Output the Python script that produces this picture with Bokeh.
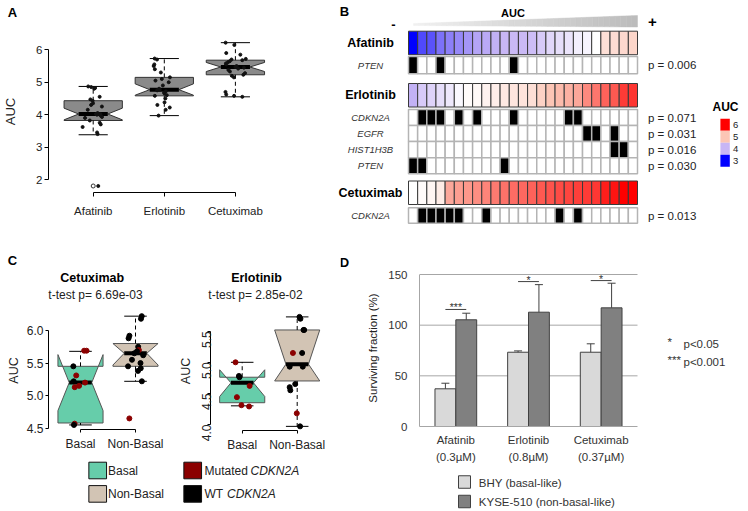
import math
import numpy as np
from bokeh.plotting import figure
from bokeh.layouts import row, column
from bokeh.models import Range1d, FixedTicker, ColumnDataSource, PrintfTickFormatter
from bokeh.transform import jitter, dodge, linear_cmap
from bokeh.core.properties import value
from bokeh.embed import file_html
from bokeh.resources import INLINE

FONT = "Liberation Sans"
TXT = "#222222"

# ======================= DATA =======================
drugs = ["Afatinib", "Erlotinib", "Cetuximab"]

# per-cell-line AUC values (sorted ascending, 25 lines)
auc_afatinib = [1.80, 3.40, 3.45, 3.62, 3.70, 3.75, 3.82, 3.90, 3.93, 3.97, 4.00, 4.02,
                4.02, 4.05, 4.15, 4.25, 4.30, 4.35, 4.43, 4.47, 4.55, 4.80, 4.82, 4.85, 4.87]
auc_erlotinib = [3.97, 4.15, 4.22, 4.30, 4.38, 4.50, 4.58, 4.60, 4.65, 4.68, 4.72, 4.75,
                 4.77, 4.80, 4.90, 5.00, 5.05, 5.10, 5.15, 5.30, 5.40, 5.50, 5.55, 5.70, 5.73]
auc_cetuximab = [4.55, 4.58, 4.62, 4.70, 5.15, 5.20, 5.23, 5.28, 5.33, 5.38, 5.42, 5.45,
                 5.47, 5.50, 5.55, 5.58, 5.62, 5.65, 5.68, 5.70, 5.72, 5.85, 5.90, 6.15, 6.22]

# panel A box statistics
a_lo = [3.38, 3.97, 4.55]
a_q1 = [3.82, 4.58, 5.23]
a_med = [4.02, 4.77, 5.47]
a_q3 = [4.43, 5.15, 5.68]
a_hi = [4.87, 5.73, 6.22]
a_nlo = [3.84, 4.60, 5.33]
a_nhi = [4.20, 4.95, 5.61]
a_outlier_drug = ["Afatinib"]
a_outlier_auc = [1.80]

# panel B mutations (indices of mutated lines, in AUC order)
afatinib_PTEN = [0, 3, 11]
erlotinib_CDKN2A = [1, 2, 3, 5, 7, 11, 17, 18]
erlotinib_EGFR = [19, 20, 22]
erlotinib_HIST1H3B = [22, 23]
erlotinib_PTEN = [0, 1, 10]
cetuximab_CDKN2A = [1, 2, 3, 4, 5, 8, 16, 18]
gene_labels = ["PTEN", "CDKN2A", "EGFR", "HIST1H3B", "PTEN", "CDKN2A"]
gene_mutated = [afatinib_PTEN, erlotinib_CDKN2A, erlotinib_EGFR, erlotinib_HIST1H3B,
                erlotinib_PTEN, cetuximab_CDKN2A]
gene_pvals = ["p = 0.006", "p = 0.071", "p = 0.031", "p = 0.016", "p = 0.030", "p = 0.013"]
auc_legend_vals = [6, 5, 4, 3]

# panel C
c_groups = ["Basal", "Non-Basal"]
cet_basal = [5.69, 5.69, 5.45, 5.31, 5.22, 5.20, 5.15, 5.13, 4.57, 4.55]
cet_basal_mut = [1, 1, 0, 1, 0, 1, 1, 1, 1, 0]
cet_nonbasal = [6.22, 6.18, 5.92, 5.88, 5.75, 5.70, 5.68, 5.65, 5.62, 5.55, 5.50, 5.45,
                5.42, 5.38, 5.22, 4.65]
cet_nonbasal_mut = [0, 0, 0, 0, 0, 1, 0, 0, 0, 0, 0, 0, 0, 0, 0, 1]
cet_lo = [4.55, 5.22]; cet_q1 = [4.58, 5.45]; cet_med = [5.20, 5.65]
cet_q3 = [5.45, 5.80]; cet_hi = [5.68, 6.22]; cet_nlo = [4.77, 5.47]; cet_nhi = [5.63, 5.80]
erl_basal = [5.00, 4.78, 4.76, 4.62, 4.44, 4.31, 4.29]
erl_basal_mut = [1, 0, 0, 1, 1, 1, 1]
erl_nonbasal = [5.73, 5.70, 5.52, 5.52, 5.15, 5.15, 4.93, 4.93, 4.65, 4.60, 4.55, 4.18, 3.97]
erl_nonbasal_mut = [0, 0, 0, 0, 1, 0, 0, 0, 0, 0, 0, 1, 0]
erl_lo = [4.30, 3.97]; erl_q1 = [4.35, 4.70]; erl_med = [4.67, 4.97]
erl_q3 = [4.76, 5.52]; erl_hi = [5.00, 5.73]; erl_nlo = [4.45, 4.70]; erl_nhi = [4.88, 5.52]
c_tests = ["t-test p= 6.69e-03", "t-test p= 2.85e-02"]
c_leg_labels = ["Basal", "Non-Basal", "Mutated ", "WT "]
c_leg_colors = ["#66cdaa", "#d2c4b4", "#8b0000", "#000000"]

# panel D
d_labels = ["Afatinib\n(0.3\u00b5M)", "Erlotinib\n(0.8\u00b5M)", "Cetuximab\n(0.37\u00b5M)"]
d_bhy = [37.2, 73.3, 73.3]
d_bhy_err = [5.5, 1.3, 8.3]
d_kyse = [105.3, 112.8, 117.1]
d_kyse_err = [6.5, 27.2, 24.3]
d_sig = ["***", "*", "*"]
d_sig_y = [115.5, 143.0, 144.0]
d_series = ["BHY (basal-like)", "KYSE-510 (non-basal-like)"]
d_colors = ["#d9d9d9", "#808080"]
d_yticks = [0, 50, 100, 150]


# ======================= HELPERS =======================
def lin(p0, v0, p1, v1):
    return lambda px: v0 + (px - p0) * (v1 - v0) / (p1 - p0)


def plot_fig(w, h, xr, yr, L, R, T, B):
    p = figure(width=w, height=h, x_range=xr, y_range=yr, output_backend="svg",
               toolbar_location=None, min_border_left=L, min_border_right=R,
               min_border_top=T, min_border_bottom=B)
    p.outline_line_color = None
    p.grid.visible = False
    return p


def text_fig(x0, x1, y0, y1, xr=None):
    p = figure(width=x1 - x0, height=y1 - y0,
               x_range=xr if xr is not None else Range1d(x0, x1), y_range=Range1d(y1, y0),
               output_backend="svg", toolbar_location=None, x_axis_location=None,
               y_axis_location=None, min_border_left=0, min_border_right=0,
               min_border_top=0, min_border_bottom=0)
    p.outline_line_color = None
    p.grid.visible = False
    return p


def txt(p, xs, ys, texts, size="12px", style="normal", align="center", baseline="middle",
        color=TXT, angle=0.0):
    p.text(x=xs, y=ys, text=texts, text_font=value(FONT), text_font_size=size,
           text_font_style=style, text_align=align, text_baseline=baseline,
           text_color=color, angle=angle)


def style_axes(p, font_size="11.5px", tick=4):
    for ax in p.axis:
        ax.axis_line_color = "black"
        ax.major_tick_line_color = "black"
        ax.major_tick_in = 0
        ax.major_tick_out = tick
        ax.minor_tick_line_color = None
        ax.major_label_text_font = FONT
        ax.major_label_text_font_size = font_size
        ax.major_label_text_color = TXT
        ax.axis_label_text_font = FONT
        ax.axis_label_text_font_style = "normal"
        ax.axis_label_text_color = TXT


def draw_boxes(p, centers, hw, lo, q1, med, q3, hi, nlo, nhi, fills, line_color, med_w):
    xs, ys = [], []
    for c, a, b, m, n1, n2 in zip(centers, q1, q3, med, nlo, nhi):
        xs.append([c - hw, c - hw, c - hw / 2, c - hw, c - hw, c + hw, c + hw, c + hw / 2, c + hw, c + hw])
        ys.append([a, n1, m, n2, b, b, n2, m, n1, a])
    p.patches(xs, ys, fill_color=fills, line_color=line_color, line_width=1)
    p.segment(x0=centers, y0=q3, x1=centers, y1=hi, line_color="black", line_dash="4 3", line_width=1)
    p.segment(x0=centers, y0=q1, x1=centers, y1=lo, line_color="black", line_dash="4 3", line_width=1)
    sl = [c - hw / 2 for c in centers]
    sr = [c + hw / 2 for c in centers]
    p.segment(x0=sl, y0=hi, x1=sr, y1=hi, line_color="black", line_width=1)
    p.segment(x0=sl, y0=lo, x1=sr, y1=lo, line_color="black", line_width=1)
    p.segment(x0=sl, y0=med, x1=sr, y1=med, line_color="black", line_width=med_w)


def box(f):
    return column(f)


# ======================= PANEL A =======================
a_top = text_fig(0, 300, 0, 30)
txt(a_top, [12], [12], ["A"], size="13px", style="bold", color="black")

xA = lin(92.7, 1, 163.8, 2)
yA = lin(179.0, 2, 49.3, 6)
A_L, A_R, A_T, A_B = 48, 300, 30, 192
pa = plot_fig(300, 220, Range1d(xA(A_L), xA(A_R)), Range1d(yA(A_B), yA(A_T)),
              A_L, 300 - A_R, A_T - 30, 250 - A_B)
a_pos = [drugs.index(d) + 1 for d in drugs]
draw_boxes(pa, a_pos, 0.41, a_lo, a_q1, a_med, a_q3, a_hi, a_nlo, a_nhi,
           ["#8a8a8a"] * 3, "#333333", 4)
pts_x, pts_y = [], []
for d, vals in zip(drugs, [auc_afatinib, auc_erlotinib, auc_cetuximab]):
    for v in vals:
        pts_x.append(drugs.index(d) + 1)
        pts_y.append(v)
pa.scatter(x=jitter("x", width=0.3), y="y", source=ColumnDataSource(dict(x=pts_x, y=pts_y)),
           size=3, color="#111111")
pa.scatter(x=[drugs.index(d) + 1 for d in a_outlier_drug], y=a_outlier_auc, size=4,
           fill_color=None, line_color="#333333")
pa.xaxis.ticker = FixedTicker(ticks=a_pos)
pa.xaxis.major_label_overrides = {i: d for i, d in zip(a_pos, drugs)}
pa.xaxis.bounds = (1, 3)
pa.yaxis.ticker = FixedTicker(ticks=[2, 3, 4, 5, 6])
pa.yaxis.bounds = (2, 6)
style_axes(pa)
pa.xaxis.major_label_standoff = 8
pa.yaxis.major_label_standoff = 2
pa.yaxis.axis_label = "AUC"
pa.yaxis.axis_label_text_font_size = "13px"
pa.yaxis.axis_label_standoff = 15

# ======================= PANEL B =======================
B_X0, B_CW = 408.0, 9.16


def colx(px):
    return (px - B_X0) / B_CW


pb = text_fig(300, 747, 0, 250, xr=Range1d(colx(300), colx(747)))

anchors = [(3.0, (0, 0, 255)), (4.0, (200, 182, 245)), (4.55, (255, 255, 255)),
           (5.0, (252, 197, 181)), (6.0, (255, 0, 0))]
palette = []
for v in np.linspace(3, 6, 301):
    for (v0, c0), (v1, c1) in zip(anchors[:-1], anchors[1:]):
        if v0 <= v <= v1:
            t = (v - v0) / (v1 - v0)
            rgb = [int(round(a + (b - a) * t)) for a, b in zip(c0, c1)]
            palette.append("#%02x%02x%02x" % tuple(rgb))
            break
cmap = linear_cmap("auc", palette, 3, 6)

auc_tops = [30.7, 83.0, 180.5]
auc_h = 23.5
gene_tops = [56.0, 109.0, 125.0, 141.0, 157.2, 207.3]
gene_hs = [17.2, 16.0, 16.0, 16.2, 16.0, 15.4]

hx, hy, hv = [], [], []
for vals, top in zip([auc_afatinib, auc_erlotinib, auc_cetuximab], auc_tops):
    for i, v in enumerate(vals):
        hx.append(i + 0.5)
        hy.append(top + auc_h / 2)
        hv.append(v)
pb.rect(x="x", y="y", width=1, height=auc_h, source=ColumnDataSource(dict(x=hx, y=hy, auc=hv)),
        fill_color=cmap, line_color="#3a3a3a", line_width=1)

gx, gy, gh, gf = [], [], [], []
n_lines = len(auc_afatinib)
for muts, top, h in zip(gene_mutated, gene_tops, gene_hs):
    for i in range(n_lines):
        gx.append(i + 0.5)
        gy.append(top + h / 2)
        gh.append(h)
        gf.append("black" if i in muts else "white")
pb.rect(x="x", y="y", width=1, height="h", source=ColumnDataSource(dict(x=gx, y=gy, h=gh, f=gf)),
        fill_color="f", line_color="#b4b4b4", line_width=1.5)

lx = colx(370)
txt(pb, [lx] * 3, [t + auc_h / 2 for t in auc_tops], drugs, size="12.5px", style="bold",
    color="black")
gene_cy = [t + h / 2 for t, h in zip(gene_tops, gene_hs)]
txt(pb, [lx] * len(gene_labels), gene_cy, gene_labels, size="9.5px", style="italic",
    color="#333333")
txt(pb, [colx(647.5)] * len(gene_pvals), gene_cy, gene_pvals, size="11.5px", align="left")

# colour legend
txt(pb, [colx(725)], [106], ["AUC"], size="12px", style="bold", color="black")
leg_y = [124.3 + 12 * k for k in range(len(auc_legend_vals))]
leg_src = ColumnDataSource(dict(x=[colx(724.6)] * 4, y=leg_y,
                                c=[palette[int(round((v - 3) * 100))] for v in auc_legend_vals]))
pb.rect(x="x", y="y", width=9.4 / B_CW, height=12, source=leg_src, fill_color="c",
        line_color=None)
txt(pb, [colx(732.5)] * 4, leg_y, [str(v) for v in auc_legend_vals], size="9.5px",
    align="left")

# header: gradient wedge, -, +, AUC
n_sl = 40
wx, wy, wc = [], [], []
for k in range(n_sl):
    p0 = 413 + 224 * k / n_sl
    p1 = 413 + 224 * (k + 1) / n_sl
    t0 = 23 - 8 * (p0 - 413) / 224
    t1 = 23 - 8 * (p1 - 413) / 224
    b0 = 25.0 + 1.5 * (p0 - 413) / 224
    b1 = 25.0 + 1.5 * (p1 - 413) / 224
    wx.append([colx(p0), colx(p1), colx(p1), colx(p0)])
    wy.append([t0, t1, b1, b0])
    g = int(round(240 - 52 * k / (n_sl - 1)))
    wc.append("#%02x%02x%02x" % (g, g, g))
pb.patches(wx, wy, fill_color=wc, line_color=wc, line_width=0.5)
txt(pb, [colx(344)], [11], ["B"], size="13px", style="bold", color="black")
txt(pb, [colx(393)], [23.5], ["-"], size="13px", style="bold", color="black")
txt(pb, [colx(512.5)], [12.5], ["AUC"], size="11px", style="bold", color="black")
txt(pb, [colx(652)], [21.5], ["+"], size="15px", style="bold", color="black")

# ======================= PANEL C =======================
c_top = text_fig(0, 340, 250, 311)
txt(c_top, [12], [260], ["C"], size="13px", style="bold", color="black")
txt(c_top, [91.7, 256], [277, 277], [drugs[2], drugs[1]], size="12.5px", style="bold",
    color="black")
txt(c_top, [95, 255], [294, 294], c_tests, size="12px")


def c_panel(x0, x1, L, R, B, xmap, ymap, lo, q1, med, q3, hi, nlo, nhi,
            basal, basal_mut, nonbasal, nonbasal_mut, yticks):
    p = plot_fig(x1 - x0, 144, Range1d(xmap(L), xmap(R)), Range1d(ymap(B), ymap(311)),
                 L - x0, x1 - R, 0, 455 - B)
    pos = [c_groups.index(g) + 1 for g in c_groups]
    draw_boxes(p, pos, 0.41, lo, q1, med, q3, hi, nlo, nhi,
               [c_leg_colors[0], c_leg_colors[1]], "#555555", 4)
    xs = [1] * len(basal) + [2] * len(nonbasal)
    ys = basal + nonbasal
    cols = [c_leg_colors[2] if m else c_leg_colors[3] for m in basal_mut + nonbasal_mut]
    p.scatter(x=jitter("x", width=0.28), y="y", source=ColumnDataSource(dict(x=xs, y=ys, c=cols)),
              size=5, color="c")
    p.xaxis.ticker = FixedTicker(ticks=pos)
    p.xaxis.major_label_overrides = {i: g for i, g in zip(pos, c_groups)}
    p.xaxis.bounds = (1, 2)
    p.yaxis.ticker = FixedTicker(ticks=yticks)
    p.yaxis.bounds = (min(yticks), max(yticks))
    p.yaxis.formatter = PrintfTickFormatter(format="%.1f")
    style_axes(p, "12px", tick=3)
    p.xaxis.major_label_standoff = 4
    p.yaxis.major_label_standoff = 2
    p.yaxis.axis_label = "AUC"
    p.yaxis.axis_label_text_font_size = "12.5px"
    return p


xC1 = lin(80, 1, 135, 2)
yC1 = lin(427.7, 4.5, 330.0, 6.0)
pc1 = c_panel(0, 172, 48, 167, 429, xC1, yC1, cet_lo, cet_q1, cet_med, cet_q3, cet_hi,
              cet_nlo, cet_nhi, cet_basal, cet_basal_mut, cet_nonbasal, cet_nonbasal_mut,
              [4.5, 5.0, 5.5, 6.0])
pc1.yaxis.axis_label_standoff = 3

xC2 = lin(241.7, 1, 296.7, 2)
yC2 = lin(424.0, 4.0, 330.7, 5.5)
pc2 = c_panel(172, 340, 210, 329, 430, xC2, yC2, erl_lo, erl_q1, erl_med, erl_q3, erl_hi,
              erl_nlo, erl_nhi, erl_basal, erl_basal_mut, erl_nonbasal, erl_nonbasal_mut,
              [4.0, 4.5, 5.0, 5.5])
pc2.yaxis.major_label_orientation = math.pi / 2
pc2.yaxis.major_label_standoff = 1
pc2.yaxis.axis_label_standoff = 2

# legend of panel C
pcl = text_fig(0, 340, 455, 510)
leg_cx = [97.2, 97.2, 192.2, 192.2]
leg_cy = [470.0, 493.4, 470.0, 493.4]
pcl.rect(x=leg_cx, y=leg_cy, width=17.7, height=16.6, fill_color=c_leg_colors,
         line_color="#111111", line_width=1)
txt(pcl, [107.5, 107.5, 204.0, 204.0], leg_cy, c_leg_labels, size="12px", align="left")
txt(pcl, [250.0, 226.5], [leg_cy[2], leg_cy[3]], ["CDKN2A", "CDKN2A"], size="12px",
    style="italic", align="left")

# ======================= PANEL D =======================
d_top = text_fig(340, 747, 250, 269)
txt(d_top, [344], [261.5], ["D"], size="13px", style="bold", color="black")

D_L, D_R, D_T, D_B = 419, 747, 269, 426
yD = lin(426, 0, 274, 150)
xD = lin(419, 0, 637, 3)
pdd = plot_fig(407, 201, Range1d(xD(D_L), xD(D_R)), Range1d(yD(D_B), yD(D_T)),
               D_L - 340, 747 - D_R, D_T - 269, 470 - D_B)
d_x = [d_labels.index(l) + 0.5 for l in d_labels]
src_d = ColumnDataSource(dict(xc=d_x, bhy=d_bhy, kyse=d_kyse,
                              bhy_hi=[a + b for a, b in zip(d_bhy, d_bhy_err)],
                              kyse_hi=[a + b for a, b in zip(d_kyse, d_kyse_err)],
                              sig=d_sig, sig_y=d_sig_y))
OFF = 0.1435
grid_y = [t for t in d_yticks if t > 0]
pdd.segment(x0=[0] * len(grid_y), x1=[len(d_labels)] * len(grid_y), y0=grid_y, y1=grid_y,
            line_color="#a6a6a6", line_width=1)
pdd.vbar(x=dodge("xc", -OFF), top="bhy", width=0.287, source=src_d,
         fill_color=d_colors[0], line_color="#404040", line_width=1)
pdd.vbar(x=dodge("xc", OFF), top="kyse", width=0.287, source=src_d,
         fill_color=d_colors[1], line_color="#404040", line_width=1)
for off, lo_, hi_ in [(-OFF, "bhy", "bhy_hi"), (OFF, "kyse", "kyse_hi")]:
    pdd.segment(x0=dodge("xc", off), y0=lo_, x1=dodge("xc", off), y1=hi_, source=src_d,
                line_color="#404040", line_width=1)
    pdd.scatter(x=dodge("xc", off), y=hi_, marker="dash", size=8, source=src_d,
                line_color="#404040", line_width=1)
pdd.segment(x0=dodge("xc", -OFF), y0="sig_y", x1=dodge("xc", OFF), y1="sig_y", source=src_d,
            line_color="#404040", line_width=1)
pdd.text(x="xc", y="sig_y", text="sig", source=src_d, text_font=value(FONT),
         text_font_size="10.5px", text_align="center", text_baseline="middle",
         text_color="#333333", y_offset=-2)
pdd.xaxis.ticker = FixedTicker(ticks=d_x)
pdd.xaxis.major_label_overrides = {x: l for x, l in zip(d_x, d_labels)}
pdd.xaxis.bounds = (0, len(d_labels))
pdd.yaxis.ticker = FixedTicker(ticks=d_yticks)
pdd.yaxis.bounds = (0, 150)
style_axes(pdd, "11.5px")
for ax in pdd.axis:
    ax.axis_line_color = "#a6a6a6"
    ax.major_tick_out = 0
    ax.major_label_text_color = "#333333"
pdd.yaxis.major_label_standoff = 12
pdd.xaxis.major_label_standoff = 7
pdd.xaxis.major_label_text_line_height = 1.45
pdd.yaxis.axis_label = "Surviving fraction (%)"
pdd.yaxis.axis_label_text_font_size = "11.5px"
pdd.yaxis.axis_label_standoff = 6
txt(pdd, [xD(667), xD(667)], [yD(341), yD(359)], ["*", "***"], size="11.5px", align="left",
    color="#333333")
txt(pdd, [xD(683), xD(683)], [yD(343), yD(361)], ["p<0.05", "p<0.001"], size="11.5px",
    align="left", color="#333333")

d_leg = text_fig(340, 747, 470, 510)
d_leg.rect(x=[464, 464], y=[481.5, 501.0], width=12, height=12.5, fill_color=d_colors,
           line_color="#404040", line_width=1)
txt(d_leg, [478.3, 478.3], [482.5, 501.0], d_series, size="11.5px", align="left",
    color="#333333")

top = row(column(box(a_top), box(pa)), box(pb))
c_block = column(box(c_top), row(box(pc1), box(pc2)), box(pcl))
d_block = column(box(d_top), box(pdd), box(d_leg))
layout = column(top, row(c_block, d_block))
open("out.html", "w").write(file_html(layout, INLINE))
